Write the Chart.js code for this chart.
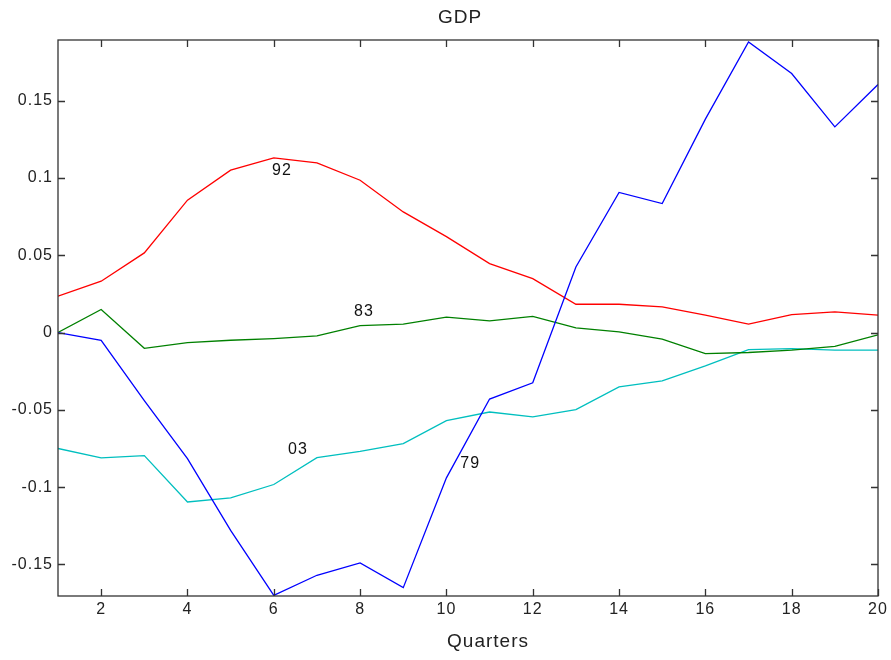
<!DOCTYPE html>
<html lang="en">
<head>
    <meta charset="UTF-8" />
    <title>GDP</title>
    <script src="https://cdn.jsdelivr.net/npm/chart.js"></script>
    <style>
        body {
            margin: 0;
            padding: 0;
            background-color: #ffffff;
        }

        .chart-container {
            width: 891px;
            height: 660px;
            position: relative;
        }
    </style>
</head>
<body>
    <div class="chart-container">
        <canvas id="gdpChart"></canvas>
    </div>

    <script>
        const quarters = [1, 2, 3, 4, 5, 6, 7, 8, 9, 10, 11, 12, 13, 14, 15, 16, 17, 18, 19, 20];
        const xTicks = [2, 4, 6, 8, 10, 12, 14, 16, 18, 20];
        const yTicks = [-0.15, -0.1, -0.05, 0, 0.05, 0.1, 0.15];

        const gdp79 = [0, -0.005, -0.044, -0.0815, -0.128, -0.170, -0.157, -0.149, -0.165, -0.094,
                       -0.043, -0.0325, 0.0424, 0.0906, 0.0834, 0.138, 0.188, 0.1675, 0.133, 0.1604];
        const gdp83 = [0, 0.0149, -0.0102, -0.0065, -0.0050, -0.0039, -0.0022, 0.0045, 0.0055, 0.0099,
                       0.0075, 0.0105, 0.0030, 0.0004, -0.0043, -0.0136, -0.0129, -0.0114, -0.0089, -0.0015];
        const gdp92 = [0.0235, 0.0332, 0.0515, 0.0856, 0.105, 0.1129, 0.1097, 0.0985, 0.078, 0.062,
                       0.0446, 0.0349, 0.0183, 0.0183, 0.0166, 0.0112, 0.0054, 0.0116, 0.0133, 0.0112];
        const gdp03 = [-0.075, -0.0811, -0.0796, -0.1096, -0.107, -0.0983, -0.0809, -0.0768, -0.0718, -0.057,
                       -0.0514, -0.0546, -0.0498, -0.0352, -0.0313, -0.0216, -0.011, -0.0104, -0.0114, -0.0114];

        const seriesNames = ['79', '83', '92', '03'];
        const seriesValues = [gdp79, gdp83, gdp92, gdp03];
        const seriesColors = ['#0000ff', '#008000', '#ff0000', '#00bfbf'];

        const FONT = '"Liberation Sans", Arial, sans-serif';
        Chart.defaults.font.family = FONT;
        Chart.defaults.color = '#222222';

        // curve tags placed in data units, like MATLAB text() calls
        const curveTags = [
            { text: '92', x: 6.19, y: 0.105 },
            { text: '83', x: 8.09, y: 0.0138 },
            { text: '03', x: 6.56, y: -0.076 },
            { text: '79', x: 10.55, y: -0.085 }
        ];

        // box around the axes with inward ticks, plus title / xlabel / tags
        const boxPlugin = {
            id: 'boxPlugin',
            beforeDraw(chart) {
                // matlab's screen font is a bit wider than Liberation Sans
                chart.ctx.letterSpacing = '1px';
            },
            afterDatasetsDraw(chart) {
                const { ctx, chartArea: a, scales } = chart;
                const len = 7;
                ctx.save();
                ctx.strokeStyle = '#333333';
                ctx.lineWidth = 1.3;
                ctx.strokeRect(a.left, a.top, a.right - a.left, a.bottom - a.top);
                ctx.beginPath();
                xTicks.forEach(v => {
                    const px = Math.round(scales.x.getPixelForValue(v)) + 0.5;
                    ctx.moveTo(px, a.bottom); ctx.lineTo(px, a.bottom - len);
                    ctx.moveTo(px, a.top); ctx.lineTo(px, a.top + len);
                });
                yTicks.forEach(v => {
                    const py = Math.round(scales.y.getPixelForValue(v)) + 0.5;
                    ctx.moveTo(a.left, py); ctx.lineTo(a.left + len, py);
                    ctx.moveTo(a.right, py); ctx.lineTo(a.right - len, py);
                });
                ctx.stroke();

                ctx.textAlign = 'center';
                ctx.textBaseline = 'middle';
                ctx.fillStyle = '#111111';
                ctx.font = '16px ' + FONT;
                curveTags.forEach(t => {
                    ctx.fillText(t.text, scales.x.getPixelForValue(t.x), scales.y.getPixelForValue(t.y));
                });

                ctx.fillStyle = '#222222';
                ctx.font = '19px ' + FONT;
                ctx.fillText('GDP', 460, 18);
                ctx.fillText('Quarters', 488, 642);
                ctx.restore();
            }
        };

        const datasets = seriesNames.map((name, i) => ({
            label: name,
            data: quarters.map((q, j) => ({ x: q, y: seriesValues[i][j] })),
            borderColor: seriesColors[i],
            backgroundColor: seriesColors[i],
            borderWidth: 1.3,
            pointRadius: 0,
            tension: 0,
            fill: false
        }));

        const ctx = document.getElementById('gdpChart').getContext('2d');

        new Chart(ctx, {
            type: 'line',
            data: { datasets: datasets },
            plugins: [boxPlugin],
            options: {
                responsive: true,
                maintainAspectRatio: false,
                animation: false,
                layout: {
                    padding: { left: 0, right: 13, top: 40, bottom: 0 }
                },
                scales: {
                    x: {
                        type: 'linear',
                        min: 1,
                        max: 20,
                        grid: { display: false, drawTicks: false },
                        border: { display: false },
                        ticks: { font: { size: 16 }, padding: 4, maxRotation: 0, autoSkip: false },
                        afterBuildTicks: axis => { axis.ticks = xTicks.map(v => ({ value: v })); },
                        afterFit: scale => { scale.height = 64; }
                    },
                    y: {
                        min: -0.1704,
                        max: 0.1892,
                        grid: { display: false, drawTicks: false },
                        border: { display: false },
                        ticks: {
                            font: { size: 16 },
                            padding: 5,
                            autoSkip: false,
                            callback: v => String(Math.round(v * 100) / 100)
                        },
                        afterBuildTicks: axis => { axis.ticks = yTicks.map(v => ({ value: v })); },
                        afterFit: scale => { scale.width = 58; }
                    }
                },
                plugins: {
                    legend: { display: false },
                    tooltip: { enabled: false },
                    title: { display: false }
                }
            }
        });
    </script>
</body>
</html>
